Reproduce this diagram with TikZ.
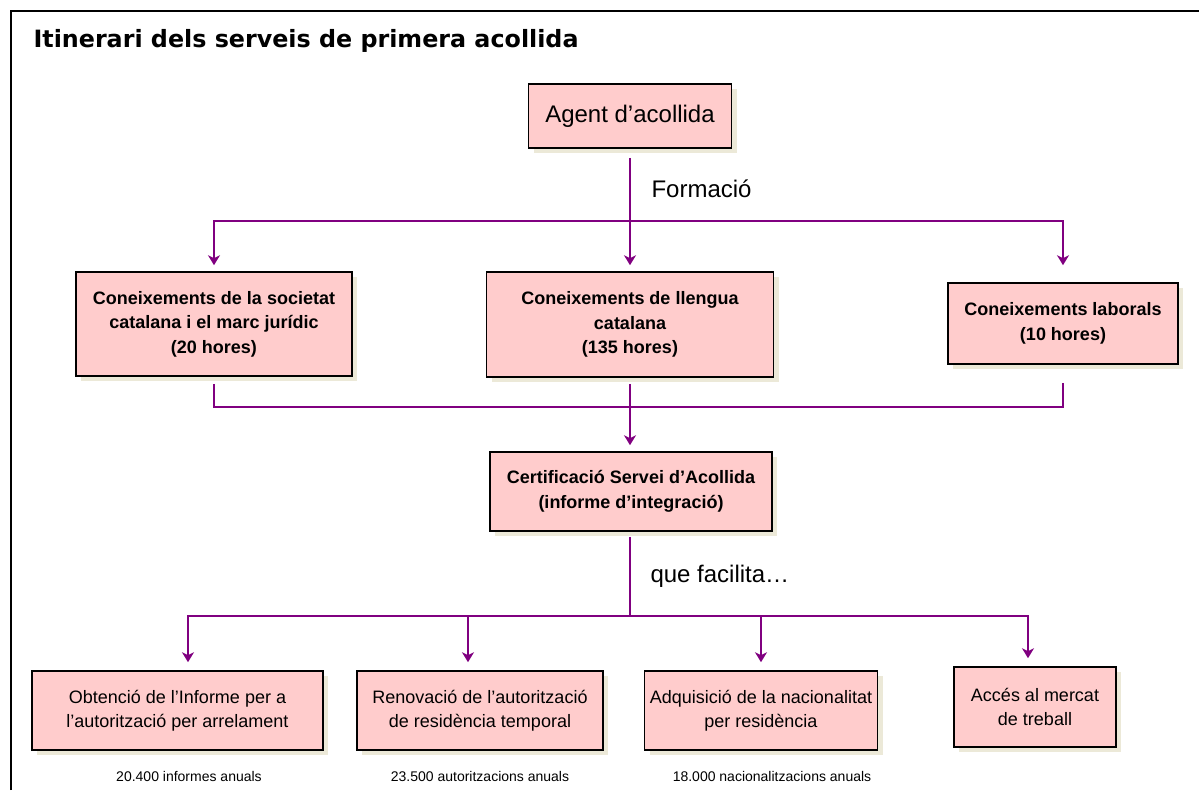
\documentclass[tikz,border=0pt]{standalone}
\usepackage{fontspec}
\setmainfont{Liberation Sans}
\newfontfamily\titlefont{DejaVu Sans}
\usetikzlibrary{arrows.meta,shadows}
\definecolor{boxpink}{HTML}{FFCCCC}
\definecolor{shade}{HTML}{ECE9D8}
\definecolor{lila}{HTML}{800080}

\begin{document}
\begin{tikzpicture}[x=1pt, y=-1pt,
    box/.style={draw=black, line width=1.6pt, fill=boxpink, align=center, inner sep=0pt,
        drop shadow={shadow xshift=5pt, shadow yshift=-5pt, fill=shade, opacity=1}},
    flow/.style={draw=lila, line width=1.8pt},
    tip/.style={-{Stealth[length=10pt, width=12pt, inset=3pt]}},
    body/.style={font=\fontsize{18}{24.5}\selectfont},
    bold/.style={font=\bfseries\fontsize{18}{24.5}\selectfont},
    note/.style={font=\fontsize{14}{16}\selectfont}]
    \useasboundingbox (0,0) rectangle (1199,790);
    \draw[line width=2pt] (11,790) -- (11,11) -- (1199,11);
    \node[anchor=base west, font=\titlefont\bfseries\fontsize{23.8}{28}\selectfont] (title) at (30,47) {Itinerari dels serveis de primera acollida};

    \node[box, minimum width=203pt, minimum height=64pt, font=\fontsize{24}{28}\selectfont] (agent) at (630,116) {Agent d’acollida};
    \node[anchor=base west, font=\fontsize{24}{28}\selectfont] (formacio) at (648,197) {Formació};

    \node[box, bold, minimum width=276pt, minimum height=104pt] (societat) at (214,324) {Coneixements de la societat\\catalana i el marc jurídic\\(20 hores)};
    \node[box, bold, minimum width=287pt, minimum height=105pt] (llengua) at (630,324.5) {Coneixements de llengua\\catalana\\(135 hores)};
    \node[box, bold, minimum width=230pt, minimum height=81pt] (laborals) at (1063,323.5) {Coneixements laborals\\(10 hores)};

    \node[box, bold, minimum width=282pt, minimum height=79pt] (certif) at (631,491.5) {Certificació Servei d’Acollida\\(informe d’integració)};
    \node[anchor=base west, font=\fontsize{24}{28}\selectfont] (facilita) at (647,582) {que facilita…};

    \node[box, body, minimum width=291pt, minimum height=79pt] (informe) at (177.5,710.5) {Obtenció de l’Informe per a\\l’autorització per arrelament};
    \node[box, body, minimum width=246pt, minimum height=79pt] (renovacio) at (480,710.5) {Renovació de l’autorització\\de residència temporal};
    \node[box, body, minimum width=233pt, minimum height=79pt] (nacional) at (761,710.5) {Adquisició de la nacionalitat\\per residència};
    \node[box, body, minimum width=162pt, minimum height=80pt] (mercat) at (1035,707) {Accés al mercat\\de treball};

    \node[note, anchor=base] (n1) at (189,781) {20.400 informes anuals};
    \node[note, anchor=base] (n2) at (480,781) {23.500 autoritzacions anuals};
    \node[note, anchor=base] (n3) at (772,781) {18.000 nacionalitzacions anuals};

    \coordinate (topbus) at (630,221);
    \coordinate (midbus) at (630,407);
    \coordinate (botbus) at (630,616);

    \draw[flow, tip, shorten <=9pt, shorten >=6pt] (agent) -- (llengua);
    \draw[flow, tip, shorten >=6pt] (topbus) -| (societat);
    \draw[flow, tip, shorten >=17pt] (topbus) -| (laborals);
    \draw[flow, shorten <=7pt] (societat) |- (midbus);
    \draw[flow, shorten <=18pt] (laborals) |- (midbus);
    \draw[flow, tip, shorten <=6pt, shorten >=6pt] (llengua) -- (certif.north -| midbus);
    \draw[flow, shorten <=5pt] (certif.south -| botbus) -- (botbus);
    \draw[flow, tip, shorten >=8pt] (botbus) -| ([xshift=10.5pt]informe.north);
    \draw[flow, tip, shorten >=8pt] (botbus) -| ([xshift=-12pt]renovacio.north);
    \draw[flow, tip, shorten >=8pt] (botbus) -| (nacional.north);
    \draw[flow, tip, shorten >=8pt] (botbus) -| ([xshift=-7pt]mercat.north);
\end{tikzpicture}
\end{document}
